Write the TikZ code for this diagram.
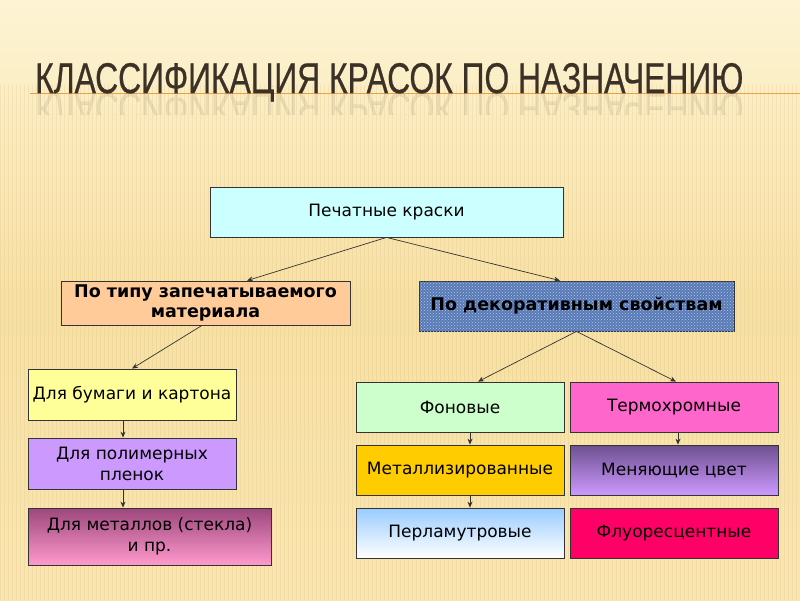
\documentclass[tikz,border=0pt]{standalone}
\usepackage{fontspec}
\setmainfont{DejaVu Sans}
\newfontfamily\titlefont[FakeStretch=0.74,FakeBold=0.6]{Liberation Sans}
\usetikzlibrary{arrows.meta,patterns,shadings}
\definecolor{bgtop}{HTML}{FDF4D4}
\definecolor{bgmid}{HTML}{F6E0A4}
\definecolor{bgbot}{HTML}{F8E6B2}
\definecolor{stripe}{HTML}{D8B469}
\definecolor{titlec}{HTML}{3C3126}
\definecolor{rulec}{HTML}{E9A23F}
\definecolor{cTop}{HTML}{CCFFFF}
\definecolor{cPeach}{HTML}{FFCC99}
\definecolor{cDenim}{HTML}{587AB5}
\definecolor{cDenimL}{HTML}{B3C6E8}
\definecolor{cYellow}{HTML}{FFFF99}
\definecolor{cLilac}{HTML}{CC99FF}
\definecolor{cMauveT}{HTML}{9C477C}
\definecolor{cPink}{HTML}{FF99CC}
\definecolor{cGreen}{HTML}{CCFFCC}
\definecolor{cThermo}{HTML}{FF66CC}
\definecolor{cGold}{HTML}{FFCC00}
\definecolor{cPurpT}{HTML}{6E5090}
\definecolor{cBlueT}{HTML}{99CCFF}
\definecolor{cFluo}{HTML}{FF0066}
\tikzset{
  box/.style={draw=black!80, line width=0.8pt, inner sep=2pt, align=center,
    font=\fontsize{17}{21}\selectfont, text=black},
  boldbox/.style={box, font=\fontsize{17.5}{20}\selectfont\bfseries},
  arr/.style={draw=black!80, line width=0.7pt, -{Stealth[length=6pt,width=5pt]}}
}
\begin{document}
\begin{tikzpicture}[x=1pt,y=-1pt]
\useasboundingbox (0,0) rectangle (800,600);
% background
\shade[top color=bgtop, bottom color=bgmid] (0,0) rectangle (800,300);
\shade[top color=bgmid, bottom color=bgbot] (0,300) rectangle (800,600);
\foreach \i in {0,4,...,800} {
  \draw[stripe, opacity=0.18, line width=0.9pt] (\i,85) -- (\i,600);
}
% title
\draw[rulec, line width=1pt] (30,93) -- (800,93);
\begin{scope}
\clip (0,93) rectangle (800,114);
\begin{scope}[shift={(35,93)}, yscale=-1, transform shape]
\node[anchor=base west, inner sep=0pt, text=titlec, opacity=0.09] (refl) at (0,0)
  {\titlefont\fontsize{43}{43}\selectfont КЛАССИФИКАЦИЯ КРАСОК ПО НАЗНАЧЕНИЮ};
\end{scope}
\end{scope}
\node[anchor=base west, inner sep=0pt, text=titlec] (title) at (35,93)
  {\titlefont\fontsize{43}{43}\selectfont КЛАССИФИКАЦИЯ КРАСОК ПО НАЗНАЧЕНИЮ};
% nodes
\node[box, fill=cTop, minimum width=353pt, minimum height=50pt] (top) at (386.5,212) {Печатные краски};
\node[boldbox, fill=cPeach, minimum width=289pt, minimum height=44pt] (ltype) at (205.5,303)
  {По типу запечатываемого\\материала};
\node[boldbox, fill=cDenim, minimum width=315pt, minimum height=50pt,
  postaction={pattern=crosshatch dots, pattern color=cDenimL}] (dec) at (576.5,306) {};
\node[font=\fontsize{17.5}{20}\selectfont\bfseries, text=black] (dectext) at (dec.center) {По декоративным свойствам};
\node[box, fill=cYellow, minimum width=208pt, minimum height=51pt] (paper) at (132,394.5) {Для бумаги и картона};
\node[box, fill=cLilac, minimum width=208pt, minimum height=51pt] (poly) at (132,463.5) {Для полимерных\\пленок};
\node[box, top color=cMauveT, bottom color=cPink, minimum width=243pt, minimum height=57pt] (metal) at (149.5,536.5) {Для металлов (стекла)\\и пр.};
\node[box, fill=cGreen, minimum width=208pt, minimum height=50pt] (fon) at (460,407) {Фоновые};
\node[box, fill=cThermo, minimum width=208pt, minimum height=50pt] (thermo) at (674,407) {Термохромные};
\node[box, fill=cGold, minimum width=208pt, minimum height=50pt] (metall) at (460,470) {Металлизированные};
\node[box, top color=cPurpT, bottom color=cLilac, minimum width=208pt, minimum height=50pt] (change) at (674,470) {Меняющие цвет};
\node[box, top color=cBlueT, bottom color=white, minimum width=208pt, minimum height=50pt] (pearl) at (460,533) {Перламутровые};
\node[box, fill=cFluo, minimum width=208pt, minimum height=50pt] (fluo) at (674,533) {Флуоресцентные};
% connectors
\draw[arr] (top.south) -- ([xshift=41.5pt]ltype.north);
\draw[arr] (top.south) -- ([xshift=-16.5pt]dec.north);
\draw[arr] ([xshift=-3.5pt]ltype.south) -- (paper.north);
\draw[arr] ([xshift=-9pt]paper.south) -- ([xshift=-9pt]poly.north);
\draw[arr] ([xshift=-9pt]poly.south) -- ([xshift=-26.5pt]metal.north);
\draw[arr] (dec.south) -- ([xshift=18pt]fon.north);
\draw[arr] (dec.south) -- ([xshift=2pt]thermo.north);
\draw[arr] ([xshift=10pt]fon.south) -- ([xshift=10pt]metall.north);
\draw[arr] ([xshift=10pt]metall.south) -- ([xshift=10pt]pearl.north);
\draw[arr] ([xshift=4pt]thermo.south) -- ([xshift=4pt]change.north);
\end{tikzpicture}
\end{document}
